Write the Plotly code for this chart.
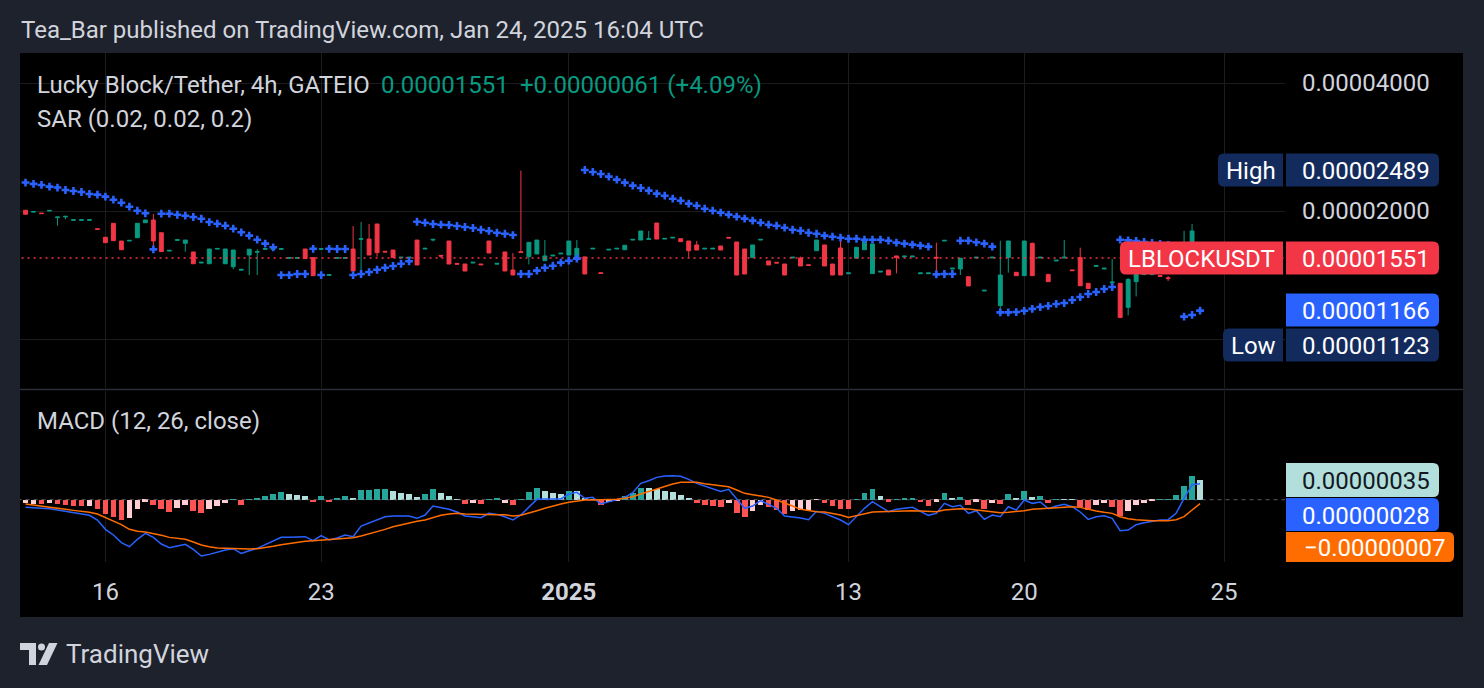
import plotly.graph_objects as go

W, H = 1484, 688
UNIT = 1e-8  # all price / indicator values below are in units of 0.00000001 USDT

OPEN = [2008, 1988, 1978, 2000, 1930, 1937, 1902, 1902, 1902, 1817,
        1735, 1871, 1700, 1700, 1731, 1877, 1905, 1778, 1610, 1706,
        1679, 1602, 1509, 1503, 1627, 1503, 1479, 1452, 1576, 1600,
        1625, 1625, 1625, 1548, 1548, 1628, 1554, 1625, 1411, 1548,
        1548, 1628, 1716, 1718, 1864, 1608, 1619, 1551, 1551, 1709,
        1628, 1709, 1573, 1700, 1506, 1501, 1509, 1501, 1700, 1500,
        1602, 1453, 1605, 1562, 1585, 1528, 1568, 1585, 1576, 1549,
        1560, 1628, 1432, 1619, 1628, 1622, 1709, 1709, 1715, 1874,
        1718, 1728, 1722, 1700, 1664, 1628, 1628, 1655, 1734, 1691,
        1628, 1554, 1709, 1526, 1515, 1501, 1551, 1551, 1495, 1613,
        1664, 1501, 1637, 1424, 1549, 1622, 1425, 1437, 1453, 1568,
        1560, 1560, 1424, 1424, 1557, 1700, 1461, 1461, 1401, 1551,
        1297, 1551, 1198, 1554, 1435, 1409, 1679, 1551, 1419, 1526,
        1551, 1454, 1554, 1352, 1482, 1461, 1355, 1352, 1187, 1364,
        1417, 1417, 1410, 1393, 1437, 1460, 1550, 1518]
HIGH = [2008, 1994, 1978, 2006, 1936, 1943, 1908, 1908, 1908, 1817,
        1735, 1871, 1700, 1706, 1871, 1905, 1968, 1778, 1616, 1712,
        1709, 1602, 1515, 1628, 1633, 1628, 1619, 1458, 1626, 1626,
        1631, 1631, 1631, 1554, 1554, 1628, 1554, 1631, 1417, 1554,
        1554, 1844, 1884, 1864, 1864, 1608, 1619, 1557, 1557, 1709,
        1634, 1715, 1573, 1700, 1506, 1501, 1515, 1501, 1700, 1506,
        1602, 1593, 2489, 1688, 1709, 1709, 1574, 1591, 1700, 1709,
        1560, 1634, 1432, 1625, 1634, 1661, 1715, 1795, 1795, 1874,
        1724, 1734, 1722, 1700, 1700, 1634, 1634, 1655, 1734, 1691,
        1628, 1664, 1715, 1526, 1515, 1501, 1557, 1562, 1495, 1709,
        1664, 1501, 1718, 1430, 1643, 1718, 1673, 1443, 1453, 1568,
        1566, 1566, 1430, 1430, 1685, 1706, 1467, 1549, 1401, 1557,
        1302, 1557, 1703, 1700, 1435, 1700, 1685, 1557, 1419, 1532,
        1709, 1454, 1640, 1352, 1488, 1467, 1543, 1352, 1390, 1430,
        1423, 1423, 1410, 1407, 1517, 1797, 1864, 1602]
LOW = [1965, 1988, 1972, 2000, 1847, 1912, 1902, 1902, 1902, 1811,
       1685, 1703, 1622, 1700, 1731, 1877, 1643, 1605, 1610, 1706,
       1605, 1503, 1509, 1503, 1627, 1503, 1459, 1452, 1414, 1414,
       1625, 1625, 1625, 1548, 1548, 1545, 1409, 1625, 1411, 1548,
       1548, 1445, 1453, 1576, 1562, 1602, 1554, 1551, 1551, 1493,
       1628, 1697, 1549, 1501, 1500, 1445, 1509, 1495, 1593, 1500,
       1445, 1414, 1597, 1498, 1585, 1528, 1568, 1585, 1576, 1549,
       1422, 1628, 1426, 1619, 1628, 1622, 1709, 1709, 1715, 1718,
       1718, 1728, 1694, 1554, 1619, 1628, 1628, 1619, 1728, 1414,
       1422, 1554, 1709, 1493, 1509, 1414, 1551, 1485, 1489, 1613,
       1485, 1414, 1414, 1424, 1549, 1622, 1425, 1437, 1414, 1427,
       1560, 1560, 1424, 1424, 1414, 1700, 1461, 1414, 1333, 1551,
       1297, 1551, 1170, 1432, 1409, 1409, 1409, 1551, 1364, 1526,
       1549, 1448, 1334, 1314, 1482, 1461, 1350, 1123, 1136, 1259,
       1417, 1417, 1404, 1369, 1437, 1440, 1530, 1501]
CLOSE = [1965, 1994, 1972, 2006, 1936, 1943, 1908, 1908, 1908, 1811,
         1685, 1703, 1622, 1706, 1871, 1905, 1700, 1605, 1616, 1712,
         1709, 1503, 1515, 1628, 1633, 1628, 1619, 1458, 1626, 1605,
         1631, 1631, 1631, 1554, 1554, 1545, 1409, 1631, 1417, 1554,
         1554, 1445, 1722, 1576, 1596, 1602, 1554, 1557, 1557, 1493,
         1634, 1715, 1567, 1501, 1500, 1445, 1515, 1495, 1593, 1506,
         1445, 1414, 1597, 1688, 1709, 1568, 1574, 1591, 1700, 1634,
         1422, 1634, 1426, 1625, 1634, 1661, 1715, 1795, 1721, 1718,
         1724, 1734, 1694, 1613, 1619, 1634, 1634, 1619, 1728, 1414,
         1422, 1664, 1715, 1493, 1509, 1414, 1557, 1485, 1489, 1709,
         1485, 1414, 1414, 1430, 1643, 1718, 1673, 1443, 1414, 1554,
         1566, 1566, 1430, 1430, 1551, 1706, 1467, 1549, 1333, 1557,
         1302, 1557, 1414, 1700, 1409, 1700, 1409, 1557, 1364, 1532,
         1557, 1448, 1334, 1314, 1488, 1467, 1361, 1123, 1381, 1419,
         1423, 1423, 1404, 1387, 1517, 1600, 1795, 1551]
SAR = [2333, 2316, 2303, 2282, 2271, 2241, 2229, 2217, 2193, 2185,
       2162, 2126, 2092, 2047, 2003, 1975, 1625, 1971, 1971, 1960,
       1950, 1936, 1918, 1884, 1867, 1847, 1817, 1782, 1750, 1712,
       1676, 1643, 1414, 1414, 1422, 1422, 1630, 1414, 1630, 1628,
       1628, 1414, 1422, 1437, 1455, 1471, 1485, 1503, 1523, 1887,
       1877, 1864, 1857, 1854, 1844, 1834, 1824, 1807, 1795, 1778,
       1768, 1756, 1422, 1422, 1448, 1471, 1487, 1512, 1528, 1545,
       2497, 2471, 2444, 2409, 2370, 2332, 2294, 2265, 2233, 2197,
       2173, 2138, 2115, 2081, 2058, 2025, 2003, 1982, 1961, 1940,
       1919, 1898, 1877, 1857, 1847, 1827, 1807, 1797, 1778, 1768,
       1750, 1740, 1731, 1721, 1721, 1712, 1712, 1712, 1703, 1685,
       1676, 1667, 1658, 1649, 1419, 1422, 1422, 1703, 1703, 1688,
       1676, 1649, 1155, 1155, 1157, 1165, 1177, 1189, 1196, 1209,
       1215, 1235, 1255, 1276, 1290, 1311, 1325, 1712, 1706, 1700,
       1691, 1682, 1673, 1664, 1655, 1129, 1139, 1166]
HIST = [-6, -7.7, -7.7, -5.3, -7.7, -9.4, -11.2, -11.2, -10.6, -16.5,
        -26, -30, -36, -32, -16.5, -3.5, -9.4, -16.5, -21.8, -14.2,
        -9.4, -20, -23.6, -16.5, -11.2, -5.3, 0.5, -9.4, 1, 1.5,
        6.5, 10.6, 14.2, 10.6, 8.3, 6.5, -4, 6.5, -4, 3,
        6.5, 1.8, 17, 17.5, 19, 19.5, 15.3, 12.4, 10, 4.7,
        10, 19, 11.8, 6.5, 1.2, -7, -6, -8, 0.5, 1.5,
        -5.3, -9.4, 0.5, 13.6, 21, 16, 12.4, 10, 16, 14.7,
        3, 1, -10, -3.5, -2, 6.5, 11, 21, 20, 18.3,
        16, 13, 8.3, 1.8, -6, -8.8, -10.6, -12.4, -6.5, -23,
        -30, -20, -9.4, -13.6, -18.3, -25.4, -20, -18.3, -18, -0.5,
        -6.5, -11.2, -16, -16.5, 0.5, 11, 18.3, 6.5, -3.5, 1,
        1.5, 2, -4.7, -11.2, -3.5, 11, 3, 4.7, -10, -3.5,
        -16, -6.5, -8, 10, 3, 16, 4, 6.5, -5, 1,
        1, 1, -13.6, -18.3, -9.4, -6.5, -12.4, -28.3, -20, -9.4,
        -5.3, -1, 0.5, 1, 8.3, 24.2, 42, 35]
# T = growing above zero, L = falling above zero, P = rising below zero, R = falling below zero
HIST_STATE = ("PPRPRRRRPR" "RRRPPPRRRP" "PRRPPPTRTT" "TTTLLLRTRT" "TLTTTTLLLL"
              "TTLLLRPRTT" "PRTTTLLLTL" "LLRPPTTTLL" "LLLLRRRRPR" "RPPRRRPPPP"
              "RRRRTTTLRT" "TTRRPTLTRP" "RPRTLTLTRT" "LLRRPPRRPP" "PPTTTTTL")
MACD = [-13.6, -14, -14.7, -15.9, -18.3, -20.6, -23, -25.4, -27.7, -36,
        -52.5, -62.5, -76, -83.2, -70.2, -59.6, -66.7, -78.5, -85, -82,
        -79, -88, -99.7, -96.8, -92.6, -89, -86.7, -95, -90.3, -86.1,
        -79.6, -72.6, -66.7, -66.7, -66, -65.5, -72.6, -63.7, -71.4, -67.8,
        -62.5, -65.5, -46.6, -40.7, -36, -30.1, -28.9, -28.9, -28.9, -33,
        -27.1, -11.2, -13.6, -17.1, -21.8, -28.9, -30.1, -31.9, -24.2, -26,
        -30.1, -36, -27.1, -12.4, 0.6, 1.2, 1.2, 1.2, 10, 13,
        2.4, 4.1, -7.7, -3.5, -0.6, 4.1, 12.4, 28.9, 33.6, 39.5,
        41.9, 42.5, 41.3, 36, 28.9, 24.2, 20, 14.7, 18.3, 0.6,
        -15.3, -11.2, -1.8, -8.3, -15.3, -28.9, -30.1, -32.4, -35.4, -20.6,
        -24.2, -30.1, -36, -44.2, -30.1, -15.3, -3.5, -12.4, -21.2, -17.1,
        -15.3, -13.6, -20.6, -27.7, -24.2, -6.5, -12.4, -10, -24.2, -19.5,
        -34.8, -27.1, -30.1, -12.4, -18.3, -0.6, -6.5, -4.1, -15.9, -11.2,
        -8.3, -12.4, -21.8, -34.8, -30.1, -28.3, -33, -54.9, -53.7, -44.2,
        -40.7, -37.8, -36, -35.4, -24.2, 2.4, 26.5, 28.3]
SIGNAL = [-7.7, -9.4, -11.2, -12.4, -14.7, -17.1, -18.9, -20.6, -22.4, -25.4,
          -31.9, -38.3, -44.2, -52.5, -56, -57.2, -59.6, -63.1, -66.7, -69,
          -70.2, -75, -80.2, -83.2, -85.5, -86.1, -86.7, -87.3, -87.3, -86.7,
          -85, -82.6, -79.6, -77.3, -75.5, -73.7, -72.6, -71.4, -70.8, -70.2,
          -69, -67.3, -64.3, -60.8, -56.6, -52.5, -47.8, -44.2, -40.7, -38.3,
          -36, -31.3, -27.7, -25.4, -24.2, -25.4, -26, -26.5, -27.1, -26.5,
          -26.5, -28.9, -27.7, -24.2, -19.5, -15.3, -11.2, -7.7, -4.7, -2.4,
          -0.6, -0.6, -0.6, -0.6, 0.6, 2.4, 5.3, 10, 14.7, 19.5,
          24.2, 27.7, 30.7, 31.3, 30.7, 28.3, 26.5, 24.8, 23, 17.1,
          11.2, 8.8, 6.5, 4.1, -0.6, -5.3, -11.2, -17.1, -19.5, -21.2,
          -21.8, -24.2, -27.1, -31.3, -27.7, -24.2, -21.8, -21.2, -20.6, -19.5,
          -19.5, -19.5, -20, -20.6, -21.2, -18.3, -17.1, -15.9, -16.5, -18.3,
          -20.6, -21.8, -23, -22.4, -21.2, -19.5, -17.1, -15.9, -14.7, -13.6,
          -13, -12.4, -13.6, -17.1, -20, -22.4, -24.2, -30.1, -33.6, -35.4,
          -36.6, -37.2, -37.2, -37.2, -35.4, -30.1, -18.3, -7]

TIME_TICK_BARS = [10, 37, 68, 103, 125, 150]
TIME_TICK_TEXT = ["16", "23", "<b>2025</b>", "13", "20", "25"]
PRICE_TICKS = [1000, 2000, 4000]
# the 0.00001000 level label is hidden behind the "Low" badge in the original
PRICE_TICK_SHOWN = [False, True, True]

# ---------------------------------------------------------------- styling
FONT = "Roboto"
OUTER = "#1e222d"
GRID = "#1c1c1c"
TXT = "#d1d4dc"
UP, DOWN = "#089981", "#F23645"
SAR_COL = "#2962FF"
HIST_COLORS = {"T": "#26A69A", "L": "#B2DFDB", "P": "#FFCDD2", "R": "#FF5252"}


def X(px):
    return px / W


def Y(py):
    return 1 - py / H


def sc(arr):
    return [v * UNIT for v in arr]


def fmt(v):
    return f"{v * UNIT:.8f}".replace("-", "\u2212")


idx = list(range(len(CLOSE)))
X_RANGE = [-0.69, 157.63]

fig = go.Figure()

# last price dotted line
fig.add_trace(go.Scatter(x=[-5, 200], y=[CLOSE[-1] * UNIT] * 2, mode="lines",
                         line=dict(color=DOWN, width=1.5, dash="2px,4px"),
                         hoverinfo="skip", xaxis="x", yaxis="y"))
fig.add_trace(go.Candlestick(
    x=idx, open=sc(OPEN), high=sc(HIGH), low=sc(LOW), close=sc(CLOSE),
    increasing=dict(line=dict(color=UP, width=1), fillcolor=UP),
    decreasing=dict(line=dict(color=DOWN, width=1), fillcolor=DOWN),
    whiskerwidth=0, xaxis="x", yaxis="y"))
fig.add_trace(go.Scatter(x=idx, y=sc(SAR), mode="markers",
                         marker=dict(symbol="cross", size=6.5, color=SAR_COL, line=dict(width=0)),
                         xaxis="x", yaxis="y"))

# MACD pane
fig.add_trace(go.Scatter(x=[-5, 200], y=[0, 0], mode="lines",
                         line=dict(color="rgba(120,123,134,0.75)", width=1, dash="4px,4px"),
                         hoverinfo="skip", xaxis="x2", yaxis="y2"))
fig.add_trace(go.Bar(x=idx, y=sc(HIST), width=0.72,
                     marker=dict(color=[HIST_COLORS[s] for s in HIST_STATE], line=dict(width=0)),
                     xaxis="x2", yaxis="y2"))
fig.add_trace(go.Scatter(x=idx, y=sc(MACD), mode="lines", line=dict(color="#2962FF", width=1.5),
                         xaxis="x2", yaxis="y2"))
fig.add_trace(go.Scatter(x=idx, y=sc(SIGNAL), mode="lines", line=dict(color="#FF6D00", width=1.5),
                         xaxis="x2", yaxis="y2"))

xdom = [X(20), X(1285)]
axis_common = dict(domain=xdom, range=X_RANGE, tickmode="array", tickvals=TIME_TICK_BARS,
                   showgrid=True, gridcolor=GRID, gridwidth=1, zeroline=False, showline=False,
                   ticks="", fixedrange=True)

fig.update_layout(
    width=W, height=H, margin=dict(l=0, r=0, t=0, b=0),
    paper_bgcolor=OUTER, plot_bgcolor="#000000", showlegend=False,
    font=dict(family=FONT, color=TXT),
    bargap=0,
    xaxis=dict(**axis_common, anchor="y", showticklabels=False,
               rangeslider=dict(visible=False)),
    xaxis2=dict(**axis_common, anchor="y2", matches="x", showticklabels=True,
                ticktext=TIME_TICK_TEXT, tickfont=dict(size=24, color=TXT, family=FONT),
                ticklabelstandoff=13),
    yaxis=dict(domain=[Y(388), Y(53)], type="log", range=[-5.11524, -4.32738],
               side="right", anchor="x", tickmode="array",
               tickvals=sc(PRICE_TICKS),
               ticktext=[fmt(v) if show else "" for v, show in zip(PRICE_TICKS, PRICE_TICK_SHOWN)],
               tickfont=dict(size=24, color=TXT, family=FONT), ticks="",
               ticklabelstandoff=16, showgrid=True, gridcolor=GRID, zeroline=False,
               showline=False, fixedrange=True),
    yaxis2=dict(domain=[Y(562), Y(391)], range=[-110.3 * UNIT, 192.4 * UNIT], side="right",
                anchor="x2", showticklabels=False, showgrid=False, zeroline=False,
                showline=False, fixedrange=True),
)


def rrect(x0, y0, x1, y1, rl, rr, color):
    path = (f"M {X(x0 + rl)},{Y(y0)} L {X(x1 - rr)},{Y(y0)} "
            f"Q {X(x1)},{Y(y0)} {X(x1)},{Y(y0 + rr)} L {X(x1)},{Y(y1 - rr)} "
            f"Q {X(x1)},{Y(y1)} {X(x1 - rr)},{Y(y1)} L {X(x0 + rl)},{Y(y1)} "
            f"Q {X(x0)},{Y(y1)} {X(x0)},{Y(y1 - rl)} L {X(x0)},{Y(y0 + rl)} "
            f"Q {X(x0)},{Y(y0)} {X(x0 + rl)},{Y(y0)} Z")
    return dict(type="path", xref="paper", yref="paper", path=path,
                fillcolor=color, line=dict(width=0), layer="above")


shapes = [
    # black chart frame
    dict(type="rect", xref="paper", yref="paper", x0=X(20), x1=X(1463), y0=Y(617), y1=Y(53),
         fillcolor="#000000", line=dict(width=0), layer="below"),
    # pane separator
    dict(type="line", xref="paper", yref="paper", x0=X(20), x1=X(1463), y0=Y(389.5), y1=Y(389.5),
         line=dict(color="#2a2e39", width=1.5), layer="above"),
]

NAVY = "#132b5c"
ann = []


def txt(x, y, s, size=24, color=TXT, anchor="left", **kw):
    ann.append(dict(x=X(x), y=Y(y), xref="paper", yref="paper", text=s, showarrow=False,
                    xanchor=anchor, yanchor="middle", font=dict(size=size, color=color, family=FONT), **kw))


# price-scale badges
badges = [
    # (name, name_x0, value_text, y_center, color, text color)
    ("High", 1218, fmt(max(HIGH)), 170, NAVY, "#ffffff"),
    ("LBLOCKUSDT", 1120, fmt(CLOSE[-1]), 258, DOWN, "#ffffff"),
    (None, None, fmt(SAR[-1]), 310, "#2962FF", "#ffffff"),
    ("Low", 1223, fmt(min(LOW)), 345, NAVY, "#ffffff"),
]
for name, nx0, vtext, yc, col, tcol in badges:
    shapes.append(rrect(1286, yc - 16.5, 1439, yc + 16.5, 0, 6, col))
    txt(1432, yc + 1, vtext, 24, tcol, "right")
    if name:
        shapes.append(rrect(nx0, yc - 16.5, 1283, yc + 16.5, 6, 0, col))
        txt((nx0 + 1283) / 2, yc + 1, name, 24, tcol, "center")

# MACD badges
macd_badges = [
    (fmt(HIST[-1]), 463, 497, 1439, "#B2DFDB", "#131722"),
    (fmt(MACD[-1]), 498, 531, 1439, "#2962FF", "#ffffff"),
    (fmt(SIGNAL[-1]), 532, 562, 1454, "#FF6D00", "#ffffff"),
]
for vtext, y0, y1, x1, col, tcol in macd_badges:
    shapes.append(rrect(1286, y0, x1, y1, 0, 6, col))
    txt(x1 - 7, (y0 + y1) / 2 + 1, vtext, 24, tcol, "right")

# header / legends
txt(19, 30, "Tea_Bar published on TradingView.com, Jan 24, 2025 16:04 UTC", 24, TXT)
txt(35, 85, "Lucky Block/Tether, 4h, GATEIO", 24, TXT)
txt(379, 85, fmt(CLOSE[-1]), 24, UP)
txt(518, 85, "+0.00000061 (+4.09%)", 24, UP)
txt(35, 119, "SAR (0.02, 0.02, 0.2)", 24, TXT)
txt(35, 421, "MACD (12, 26, close)", 24, TXT)

# footer
txt(64, 654, "TradingView", 26, TXT)
LOGO = "#d1d4dc"
shapes.append(dict(type="path", xref="paper", yref="paper", fillcolor=LOGO, line=dict(width=0),
                   path=(f"M {X(20)},{Y(643)} L {X(36)},{Y(643)} L {X(36)},{Y(665)} L {X(29)},{Y(665)} "
                         f"L {X(29)},{Y(650)} L {X(20)},{Y(650)} Z")))
shapes.append(dict(type="circle", xref="paper", yref="paper", fillcolor=LOGO, line=dict(width=0),
                   x0=X(38), x1=X(45), y0=Y(650.5), y1=Y(643.5)))
shapes.append(dict(type="path", xref="paper", yref="paper", fillcolor=LOGO, line=dict(width=0),
                   path=(f"M {X(49)},{Y(643)} L {X(57.5)},{Y(643)} L {X(47)},{Y(665)} L {X(38.5)},{Y(665)} Z")))

fig.update_layout(shapes=shapes, annotations=ann)
fig.write_html("out.html", config=dict(displayModeBar=False))
